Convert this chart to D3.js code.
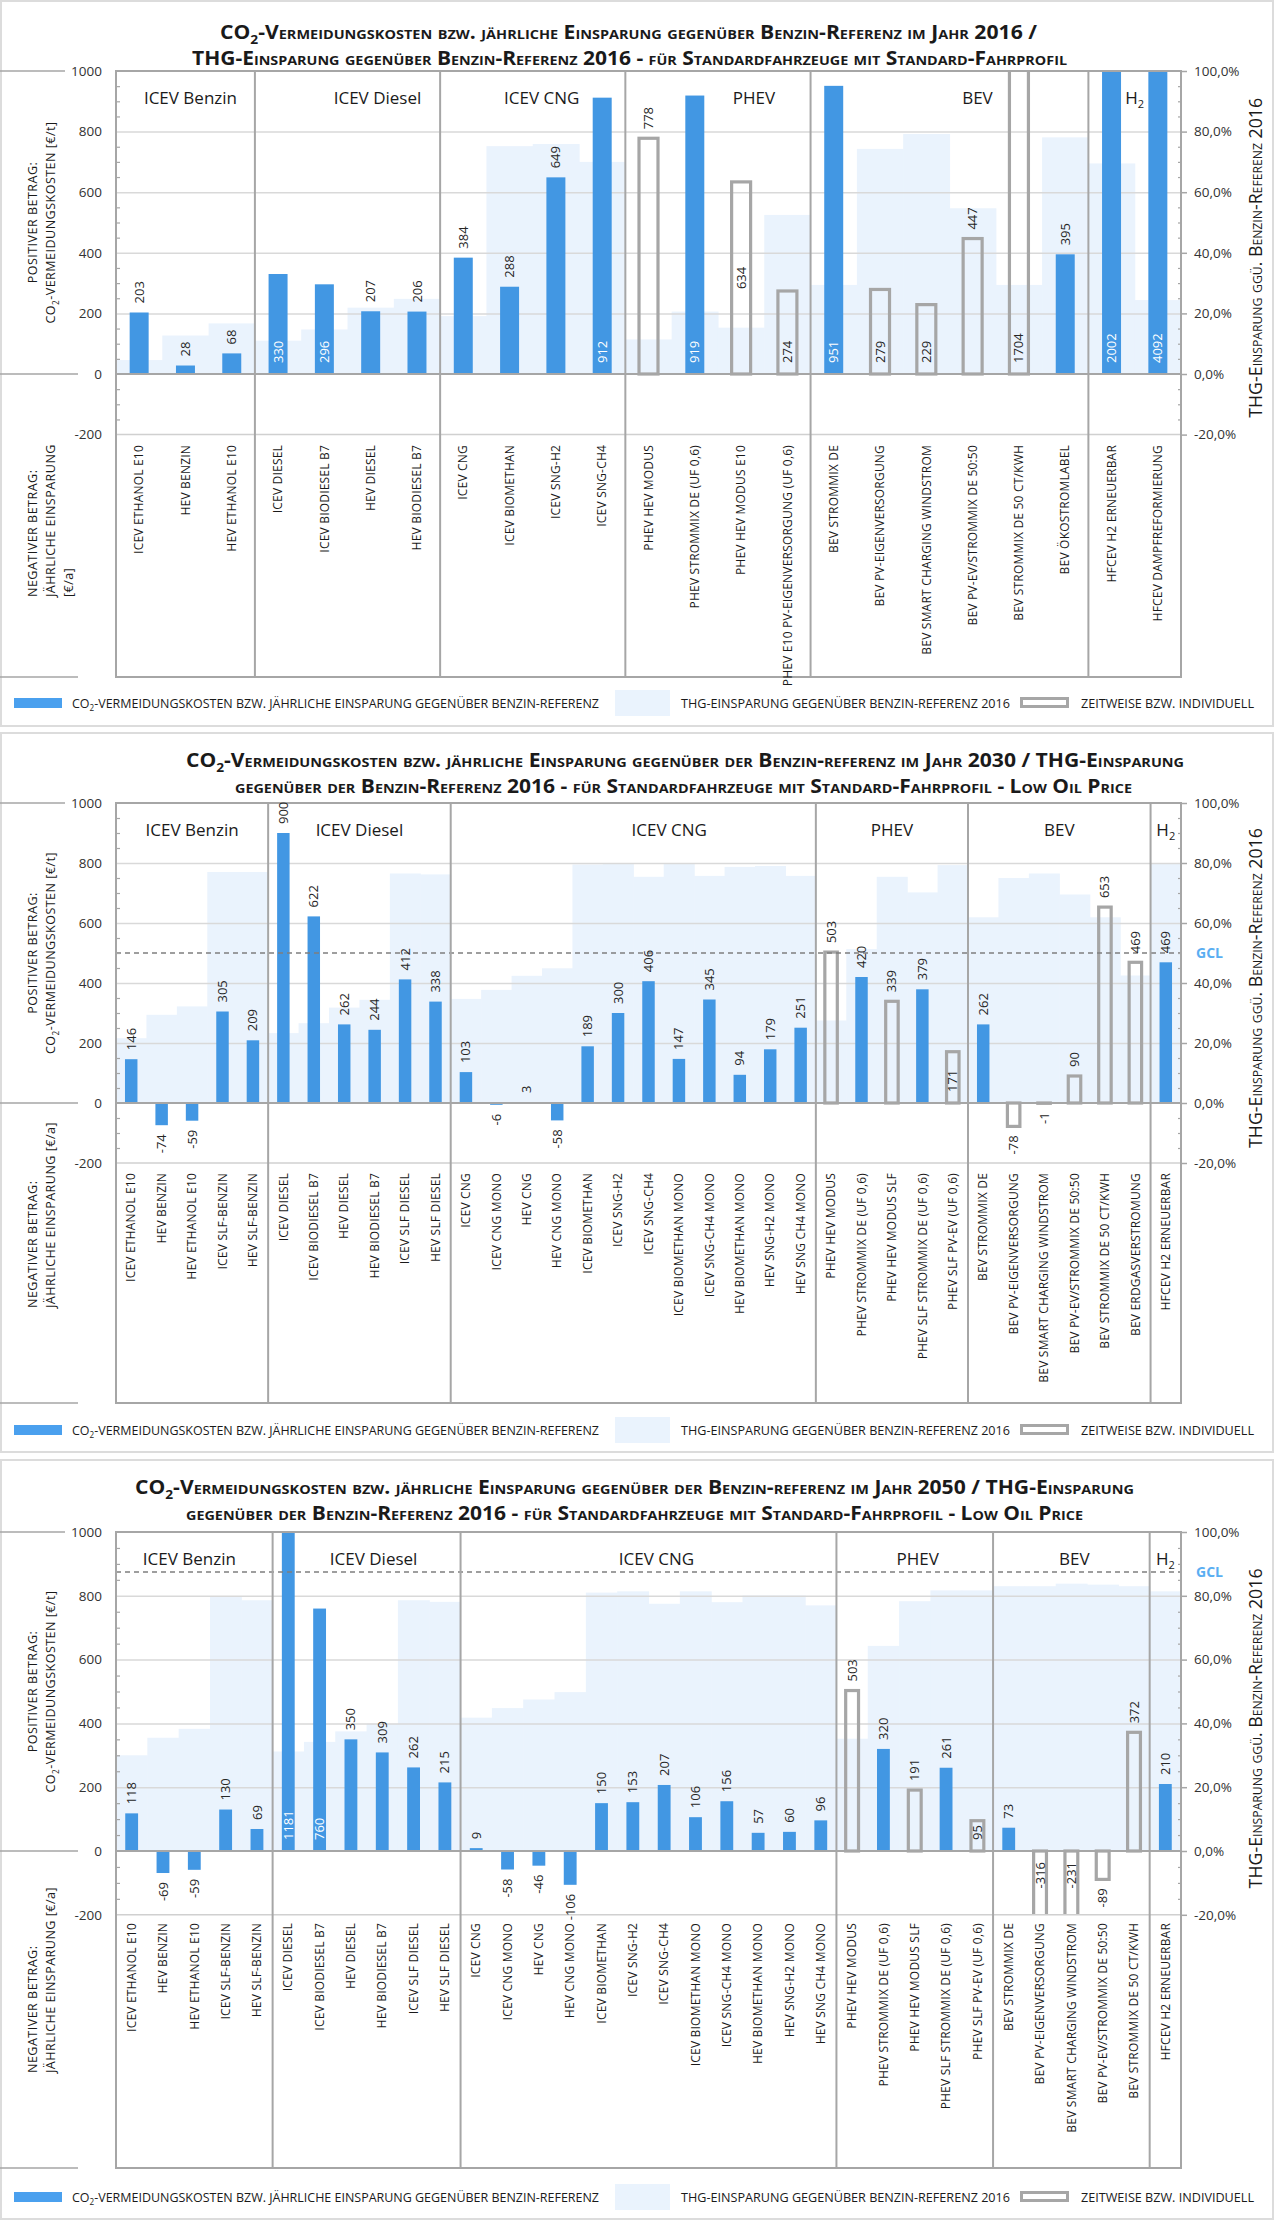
<!DOCTYPE html>
<html><head><meta charset="utf-8">
<script src="https://cdn.jsdelivr.net/npm/d3@7"></script>
<style>body{margin:0;background:#fff} text{font-family:"Open Sans","DejaVu Sans",sans-serif}</style>
</head><body>
<script>
// ---------------- DATA ----------------
const leftTicks = [-200, 0, 200, 400, 600, 800, 1000];
const rightTicks = [-0.2, 0, 0.2, 0.4, 0.6, 0.8, 1.0];

// Panel 1 – 2016
const p1Categories = ["ICEV ETHANOL E10","HEV BENZIN","HEV ETHANOL E10","ICEV DIESEL","ICEV BIODIESEL B7","HEV DIESEL","HEV BIODIESEL B7","ICEV CNG","ICEV BIOMETHAN","ICEV SNG-H2","ICEV SNG-CH4","PHEV HEV MODUS","PHEV STROMMIX DE (UF 0,6)","PHEV HEV MODUS E10","PHEV E10 PV-EIGENVERSORGUNG (UF 0,6)","BEV STROMMIX DE","BEV PV-EIGENVERSORGUNG","BEV SMART CHARGING WINDSTROM","BEV PV-EV/STROMMIX DE 50:50","BEV STROMMIX DE 50 CT/KWH","BEV ÖKOSTROMLABEL","HFCEV H2 ERNEUERBAR","HFCEV DAMPFREFORMIERUNG"];
const p1Groups = [["ICEV Benzin",3],["ICEV Diesel",4],["ICEV CNG",4],["PHEV",4],["BEV",6],["H2",2]];
const p1Cost = [203,28,68,330,296,207,206,384,288,649,912,778,919,634,274,951,279,229,447,1704,395,2002,4092];
const p1Kind = ["B","B","B","B","B","B","B","B","B","B","B","Z","B","Z","Z","B","Z","Z","Z","Z","B","B","B"];
const p1Thg = [4.6,12.7,16.7,11.0,14.7,21.9,24.8,19.1,75.2,75.9,70.0,11.4,20.6,15.3,52.5,29.4,74.3,79.2,54.7,29.4,78.1,69.5,24.4];
const p1LabelAt = ["o","o","o","i","i","o","o","o","o","o","i","o","i","m","i","i","i","i","o","i","o","i","i"];

// Panel 2 – 2030
const p2Categories = ["ICEV ETHANOL E10","HEV BENZIN","HEV ETHANOL E10","ICEV SLF-BENZIN","HEV SLF-BENZIN","ICEV DIESEL","ICEV BIODIESEL B7","HEV DIESEL","HEV BIODIESEL B7","ICEV SLF DIESEL","HEV SLF DIESEL","ICEV CNG","ICEV CNG MONO","HEV CNG","HEV CNG MONO","ICEV BIOMETHAN","ICEV SNG-H2","ICEV SNG-CH4","ICEV BIOMETHAN MONO","ICEV SNG-CH4 MONO","HEV BIOMETHAN MONO","HEV SNG-H2 MONO","HEV SNG CH4 MONO","PHEV HEV MODUS","PHEV STROMMIX DE (UF 0,6)","PHEV HEV MODUS SLF","PHEV SLF STROMMIX DE (UF 0,6)","PHEV SLF PV-EV (UF 0,6)","BEV STROMMIX DE","BEV PV-EIGENVERSORGUNG","BEV SMART CHARGING WINDSTROM","BEV PV-EV/STROMMIX DE 50:50","BEV STROMMIX DE 50 CT/KWH","BEV ERDGASVERSTROMUNG","HFCEV H2 ERNEUERBAR"];
const p2Groups = [["ICEV Benzin",5],["ICEV Diesel",6],["ICEV CNG",12],["PHEV",5],["BEV",6],["H2",1]];
const p2Cost = [146,-74,-59,305,209,900,622,262,244,412,338,103,-6,3,-58,189,300,406,147,345,94,179,251,503,420,339,379,171,262,-78,-1,90,653,469,469];
const p2Kind = ["B","B","B","B","B","B","B","B","B","B","B","B","B","B","B","B","B","B","B","B","B","B","B","Z","B","Z","B","Z","B","Z","Z","Z","Z","Z","B"];
const p2Thg = [21.6,29.4,32.2,77.0,77.0,23.3,26.6,31.8,34.4,76.5,76.2,34.7,37.7,42.4,44.9,79.5,80.0,75.4,80.0,75.7,78.7,79.0,75.7,27.5,51.3,75.4,70.2,79.3,61.9,75.0,76.5,69.5,61.9,42.5,80.0];
const p2LabelAt = ["o","o","o","o","o","o","o","o","o","o","o","o","o","o","o","o","o","o","o","o","o","o","o","o","o","o","o","i","o","o","o","o","o","o","o"];
const p2Gcl = 500;

// Panel 3 – 2050
const p3Categories = ["ICEV ETHANOL E10","HEV BENZIN","HEV ETHANOL E10","ICEV SLF-BENZIN","HEV SLF-BENZIN","ICEV DIESEL","ICEV BIODIESEL B7","HEV DIESEL","HEV BIODIESEL B7","ICEV SLF DIESEL","HEV SLF DIESEL","ICEV CNG","ICEV CNG MONO","HEV CNG","HEV CNG MONO","ICEV BIOMETHAN","ICEV SNG-H2","ICEV SNG-CH4","ICEV BIOMETHAN MONO","ICEV SNG-CH4 MONO","HEV BIOMETHAN MONO","HEV SNG-H2 MONO","HEV SNG CH4 MONO","PHEV HEV MODUS","PHEV STROMMIX DE (UF 0,6)","PHEV HEV MODUS SLF","PHEV SLF STROMMIX DE (UF 0,6)","PHEV SLF PV-EV (UF 0,6)","BEV STROMMIX DE","BEV PV-EIGENVERSORGUNG","BEV SMART CHARGING WINDSTROM","BEV PV-EV/STROMMIX DE 50:50","BEV STROMMIX DE 50 CT/KWH","HFCEV H2 ERNEUERBAR"];
const p3Groups = [["ICEV Benzin",5],["ICEV Diesel",6],["ICEV CNG",12],["PHEV",5],["BEV",5],["H2",1]];
const p3Cost = [118,-69,-59,130,69,1181,760,350,309,262,215,9,-58,-46,-106,150,153,207,106,156,57,60,96,503,320,191,261,95,73,-316,-231,-89,372,210];
const p3Kind = ["B","B","B","B","B","B","B","B","B","B","B","B","B","B","B","B","B","B","B","B","B","B","B","Z","B","Z","B","Z","B","Z","Z","Z","Z","B"];
const p3Thg = [30.0,35.5,38.3,79.6,78.6,31.2,34.2,37.5,39.9,78.6,78.1,41.8,44.8,47.5,49.8,81.0,81.4,77.5,81.4,78.0,80.1,80.1,77.0,35.2,64.3,78.3,81.7,81.7,83.0,83.0,83.8,83.5,83.0,81.4];
const p3LabelAt = ["o","o","o","o","o","i","i","o","o","o","o","o","o","o","o","o","o","o","o","o","o","o","o","o","o","o","o","i","o","i","i","o","o","o"];
const p3Gcl = 875;

// ---------------- TEXTS ----------------
const titleP1 = [["CO","2","-Vermeidungskosten bzw. jährliche Einsparung gegenüber Benzin-Referenz im Jahr 2016 /"],
                 ["","","THG-Einsparung gegenüber Benzin-Referenz 2016 - für Standardfahrzeuge mit Standard-Fahrprofil"]];
const titleP2 = [["CO","2","-Vermeidungskosten bzw. jährliche Einsparung gegenüber der Benzin-referenz im Jahr 2030 / THG-Einsparung"],
                 ["","","gegenüber der Benzin-Referenz 2016 - für Standardfahrzeuge mit Standard-Fahrprofil - Low Oil Price"]];
const titleP3 = [["CO","2","-Vermeidungskosten bzw. jährliche Einsparung gegenüber der Benzin-referenz im Jahr 2050 / THG-Einsparung"],
                 ["","","gegenüber der Benzin-Referenz 2016 - für Standardfahrzeuge mit Standard-Fahrprofil - Low Oil Price"]];

// ---------------- LAYOUT ----------------
const W = 1275, H = 2221, PL = 116, PR = 1181;
const BLUE = "#4297e3", LIGHT = "#eaf3fd", GREY = "#a6a6a6", GRID = "#d9d9d9";
const locale = d3.formatLocale({decimal: ",", thousands: ".", grouping: [3], currency: ["", "€"], minus: "-"});
const pctFmt = locale.format(".1%");
const numFmt = locale.format("d");

const panels = [
  {id:1, cats:p1Categories, groups:p1Groups, cost:p1Cost, kind:p1Kind, thg:p1Thg, lab:p1LabelAt, gcl:null, title:titleP1,
   top:1, bottom:726, plotTop:71, zeroY:374, frameBottom:677, labelTop:445, titleY:[39,65], titleX:[220,192], titleLen:[817,875],
   legendY:703, negLines:["NEGATIVER BETRAG:","JÄHRLICHE EINSPARUNG","[€/a]"], negStart:597, groupDx:[5,30,9,36,28,0]},
  {id:2, cats:p2Categories, groups:p2Groups, cost:p2Cost, kind:p2Kind, thg:p2Thg, lab:p2LabelAt, gcl:p2Gcl, title:titleP2,
   top:733, bottom:1452, plotTop:803, zeroY:1103, frameBottom:1403, labelTop:1173, titleY:[767,793], titleX:[186,235], titleLen:[998,897],
   legendY:1430, negLines:["NEGATIVER BETRAG:","JÄHRLICHE EINSPARUNG [€/a]"], negStart:1308, groupDx:[0,0,36,0,0,0]},
  {id:3, cats:p3Categories, groups:p3Groups, cost:p3Cost, kind:p3Kind, thg:p3Thg, lab:p3LabelAt, gcl:p3Gcl, title:titleP3,
   top:1460, bottom:2219, plotTop:1532, zeroY:1851, frameBottom:2168, labelTop:1923, titleY:[1494,1520], titleX:[135,186], titleLen:[999,897],
   legendY:2197, negLines:["NEGATIVER BETRAG:","JÄHRLICHE EINSPARUNG [€/a]"], negStart:2073, groupDx:[-5,7,8,3,3,0]}
];

const svg = d3.select("body").append("svg").attr("width", W).attr("height", H)
  .style("display","block").style("background","#fff");

function subText(sel, parts, fs) {
  if (parts[0]) sel.append("tspan").text(parts[0]);
  if (parts[1]) sel.append("tspan").attr("dy", fs*0.25).attr("font-size", fs*0.65).text(parts[1]);
  if (parts[2]) sel.append("tspan").attr("dy", parts[1] ? -fs*0.25 : 0).text(parts[2]);
}

function drawPanel(p) {
  const g = svg.append("g");
  g.append("rect").attr("x",1).attr("y",p.top).attr("width",W-3).attr("height",p.bottom-p.top)
    .attr("fill","#fff").attr("stroke","#dcdcdc").attr("stroke-width",2);

  const yBottom = p.zeroY + (p.zeroY - p.plotTop)/5;
  const x = d3.scaleBand().domain(p.cats).range([PL, PR]).paddingInner(0).paddingOuter(0);
  const y = d3.scaleLinear().domain([-200, 1000]).range([yBottom, p.plotTop]);
  const yR = d3.scaleLinear().domain([-0.2, 1]).range([yBottom, p.plotTop]);
  const bw = x.bandwidth()*0.41;
  const cx = c => x(c) + x.bandwidth()/2;

  // titles
  p.title.forEach((parts, i) => {
    const t = g.append("text").attr("x", p.titleX[i]).attr("y", p.titleY[i])
      .attr("font-size", 19).attr("font-weight", "bold").attr("fill", "#1a1a1a")
      .style("font-variant", "small-caps")
      .attr("textLength", p.titleLen[i]).attr("lengthAdjust", "spacingAndGlyphs");
    subText(t, parts, 19);
  });

  const clipId = "clip" + p.id;
  g.append("clipPath").attr("id", clipId).append("rect")
    .attr("x", PL).attr("y", p.plotTop).attr("width", PR-PL).attr("height", yBottom - p.plotTop);
  const plot = g.append("g").attr("clip-path", `url(#${clipId})`);

  // THG area (secondary axis)
  plot.selectAll("rect.thg").data(p.thg).join("rect").attr("class","thg")
    .attr("x", (d,i) => x(p.cats[i])).attr("width", x.bandwidth()+0.6)
    .attr("y", d => yR(d/100)).attr("height", d => yR(0) - yR(d/100)).attr("fill", LIGHT);

  // gridlines
  plot.append("g").attr("transform", `translate(${PL},0)`)
    .call(d3.axisLeft(y).tickValues([200,400,600,800]).tickSize(-(PR-PL)).tickFormat(""))
    .call(s => s.select(".domain").remove())
    .call(s => s.selectAll("line").attr("stroke", GRID).attr("stroke-width", 1.5));

  // GCL
  if (p.gcl !== null) {
    g.append("line").attr("x1", PL).attr("x2", PR).attr("y1", y(p.gcl)).attr("y2", y(p.gcl))
      .attr("stroke", "#7f7f7f").attr("stroke-width", 1.5).attr("stroke-dasharray", "5,4");
    g.append("text").attr("x", 1196).attr("y", y(p.gcl)).attr("dy", "0.35em")
      .attr("font-size", 14).attr("font-weight", "bold").attr("fill", "#5aaef2").text("GCL");
  }

  const items = p.cats.map((c, i) => ({c, v: p.cost[i], k: p.kind[i], lp: p.lab[i]}));

  // bars
  plot.selectAll("rect.bar").data(items.filter(d => d.k === "B")).join("rect").attr("class","bar")
    .attr("x", d => cx(d.c) - bw/2).attr("width", bw)
    .attr("y", d => y(Math.max(0, d.v))).attr("height", d => Math.abs(y(d.v) - y(0)))
    .attr("fill", BLUE);
  // boxes (zeitweise bzw. individuell)
  plot.selectAll("rect.box").data(items.filter(d => d.k === "Z")).join("rect").attr("class","box")
    .attr("x", d => cx(d.c) - bw/2).attr("width", bw)
    .attr("y", d => y(Math.max(0, d.v))).attr("height", d => Math.max(0.3, Math.abs(y(d.v) - y(0))))
    .attr("fill", "none").attr("stroke", GREY).attr("stroke-width", 3.2);

  // -200 line, zero line
  g.append("line").attr("x1", PL).attr("x2", PR).attr("y1", yBottom).attr("y2", yBottom)
    .attr("stroke", "#d0d0d0").attr("stroke-width", 1.5);
  g.append("line").attr("x1", PL).attr("x2", PR).attr("y1", y(0)).attr("y2", y(0))
    .attr("stroke", GREY).attr("stroke-width", 2.2);

  // frame
  g.append("rect").attr("x", PL).attr("y", p.plotTop).attr("width", PR-PL).attr("height", p.frameBottom - p.plotTop)
    .attr("fill", "none").attr("stroke", GREY).attr("stroke-width", 2);

  // group dividers + labels
  let start = 0;
  p.groups.forEach((gr, gi) => {
    const x0 = x(p.cats[start]);
    const x1 = start + gr[1] < p.cats.length ? x(p.cats[start + gr[1]]) : PR;
    if (gi > 0) g.append("line").attr("x1", x0).attr("x2", x0).attr("y1", p.plotTop).attr("y2", p.frameBottom)
      .attr("stroke", GREY).attr("stroke-width", 2);
    const t = g.append("text").attr("x", (x0 + x1)/2 + p.groupDx[gi]).attr("y", p.plotTop + 33)
      .attr("text-anchor", "middle").attr("font-size", 17).attr("fill", "#1a1a1a");
    if (gr[0] === "H2") subText(t, ["H", "2", ""], 17); else t.text(gr[0]);
    start += gr[1];
  });

  // left axis labels + minor ticks
  g.append("g").attr("transform", `translate(${PL},0)`)
    .call(d3.axisLeft(y).tickValues(leftTicks).tickSize(0).tickPadding(14).tickFormat(numFmt))
    .call(s => s.select(".domain").remove())
    .call(s => s.selectAll("text").attr("font-size", 13.5).attr("fill", "#333").attr("font-family", "Open Sans"));
  g.append("g").attr("transform", `translate(${PL},0)`)
    .call(d3.axisLeft(y).tickValues(d3.range(-150, 1000, 50).filter(v => v % 200 !== 0)).tickSize(-4).tickFormat(""))
    .call(s => s.select(".domain").remove())
    .call(s => s.selectAll("line").attr("stroke", GREY).attr("stroke-width", 1.2));

  // right axis
  g.append("g").attr("transform", `translate(${PR},0)`)
    .call(d3.axisRight(yR).tickValues(rightTicks).tickSize(6).tickPadding(7).tickFormat(pctFmt))
    .call(s => s.select(".domain").remove())
    .call(s => s.selectAll("line").attr("stroke", GREY).attr("stroke-width", 1.5))
    .call(s => s.selectAll("text").attr("font-size", 13.5).attr("fill", "#333").attr("font-family", "Open Sans"));
  g.append("g").attr("transform", `translate(${PR},0)`)
    .call(d3.axisRight(yR).tickValues(d3.range(-0.15, 1.0, 0.05).filter(v => Math.abs(Math.round(v*100) % 20) !== 0)).tickSize(-3).tickFormat(""))
    .call(s => s.select(".domain").remove())
    .call(s => s.selectAll("line").attr("stroke", GREY).attr("stroke-width", 1.2));

  // right axis title
  const rcy = (p.plotTop + yBottom)/2 + 5;
  g.append("text").attr("transform", `translate(1256,${rcy}) rotate(-90)`).attr("dy", "0.35em")
    .attr("text-anchor", "middle").attr("font-size", 17.5).attr("fill", "#1a1a1a")
    .style("font-variant", "small-caps").attr("textLength", 320).attr("lengthAdjust", "spacingAndGlyphs")
    .text("THG-Einsparung ggü. Benzin-Referenz 2016");

  // left axis titles
  const pcy = (p.plotTop + p.zeroY)/2;
  g.append("text").attr("transform", `translate(33,${pcy}) rotate(-90)`).attr("dy", "0.35em")
    .attr("text-anchor", "middle").attr("font-size", 12.5).attr("fill", "#1a1a1a").attr("letter-spacing", 0.5)
    .text("POSITIVER BETRAG:");
  const pt2 = g.append("text").attr("transform", `translate(51,${pcy}) rotate(-90)`).attr("dy", "0.35em")
    .attr("text-anchor", "middle").attr("font-size", 12.5).attr("fill", "#1a1a1a").attr("letter-spacing", 0.5);
  subText(pt2, ["CO", "2", "-VERMEIDUNGSKOSTEN [€/t]"], 12.5);
  p.negLines.forEach((ln, i) => {
    g.append("text").attr("transform", `translate(${33 + 18*i},${p.negStart}) rotate(-90)`).attr("dy", "0.35em")
      .attr("text-anchor", "start").attr("font-size", 12.5).attr("fill", "#1a1a1a").attr("letter-spacing", 0.5)
      .text(ln);
  });
  // separator lines on the left
  [[p.plotTop, 65], [p.zeroY, 78], [p.frameBottom, 78]].forEach(([yy, len]) => {
    g.append("line").attr("x1", 0).attr("x2", len).attr("y1", yy).attr("y2", yy)
      .attr("stroke", GREY).attr("stroke-width", 1.5);
  });

  // category labels
  g.selectAll("text.cat").data(p.cats).join("text").attr("class", "cat")
    .attr("transform", d => `translate(${cx(d)},${p.labelTop}) rotate(-90)`).attr("dy", "0.35em")
    .attr("text-anchor", "end").attr("font-size", 12).attr("fill", "#1a1a1a").attr("letter-spacing", 0.2).text(d => d);

  // data labels
  const gap = 9;
  g.selectAll("text.val").data(items).join("text").attr("class", "val")
    .attr("transform", d => {
      let yy;
      if (d.lp === "m") yy = y(d.v/2);
      else if (d.lp === "i") yy = d.v >= 0 ? y(0) - gap - 2 : y(0) + gap + 2;
      else yy = d.v >= 0 ? y(d.v) - gap : y(d.v) + gap;
      return `translate(${cx(d.c)},${yy}) rotate(-90)`;
    })
    .attr("dy", "0.35em")
    .attr("text-anchor", d => d.lp === "m" ? "middle" : (d.v >= 0 ? "start" : "end"))
    .attr("font-size", 13)
    .attr("fill", d => (d.lp === "i" && d.k === "B") ? "#ffffff" : "#262626")
    .text(d => numFmt(d.v));

  // legend
  const ly = p.legendY;
  g.append("rect").attr("x", 14).attr("y", ly-5).attr("width", 48).attr("height", 10).attr("fill", "#4aa0ee");
  const l1 = g.append("text").attr("x", 72).attr("y", ly+4.5).attr("font-size", 12.5).attr("fill", "#1a1a1a")
    .attr("textLength", 527).attr("lengthAdjust", "spacingAndGlyphs");
  subText(l1, ["CO", "2", "-VERMEIDUNGSKOSTEN BZW. JÄHRLICHE EINSPARUNG GEGENÜBER BENZIN-REFERENZ"], 12.5);
  g.append("rect").attr("x", 615).attr("y", ly-13).attr("width", 55).attr("height", 26).attr("fill", LIGHT);
  g.append("text").attr("x", 681).attr("y", ly+4.5).attr("font-size", 12.5).attr("fill", "#1a1a1a")
    .attr("textLength", 329).attr("lengthAdjust", "spacingAndGlyphs")
    .text("THG-EINSPARUNG GEGENÜBER BENZIN-REFERENZ 2016");
  g.append("rect").attr("x", 1021.5).attr("y", ly-4.5).attr("width", 46).attr("height", 8)
    .attr("fill", "none").attr("stroke", GREY).attr("stroke-width", 3);
  g.append("text").attr("x", 1081).attr("y", ly+4.5).attr("font-size", 12.5).attr("fill", "#1a1a1a")
    .attr("textLength", 173).attr("lengthAdjust", "spacingAndGlyphs")
    .text("ZEITWEISE BZW. INDIVIDUELL");
}

panels.forEach(drawPanel);
</script>
</body></html>
